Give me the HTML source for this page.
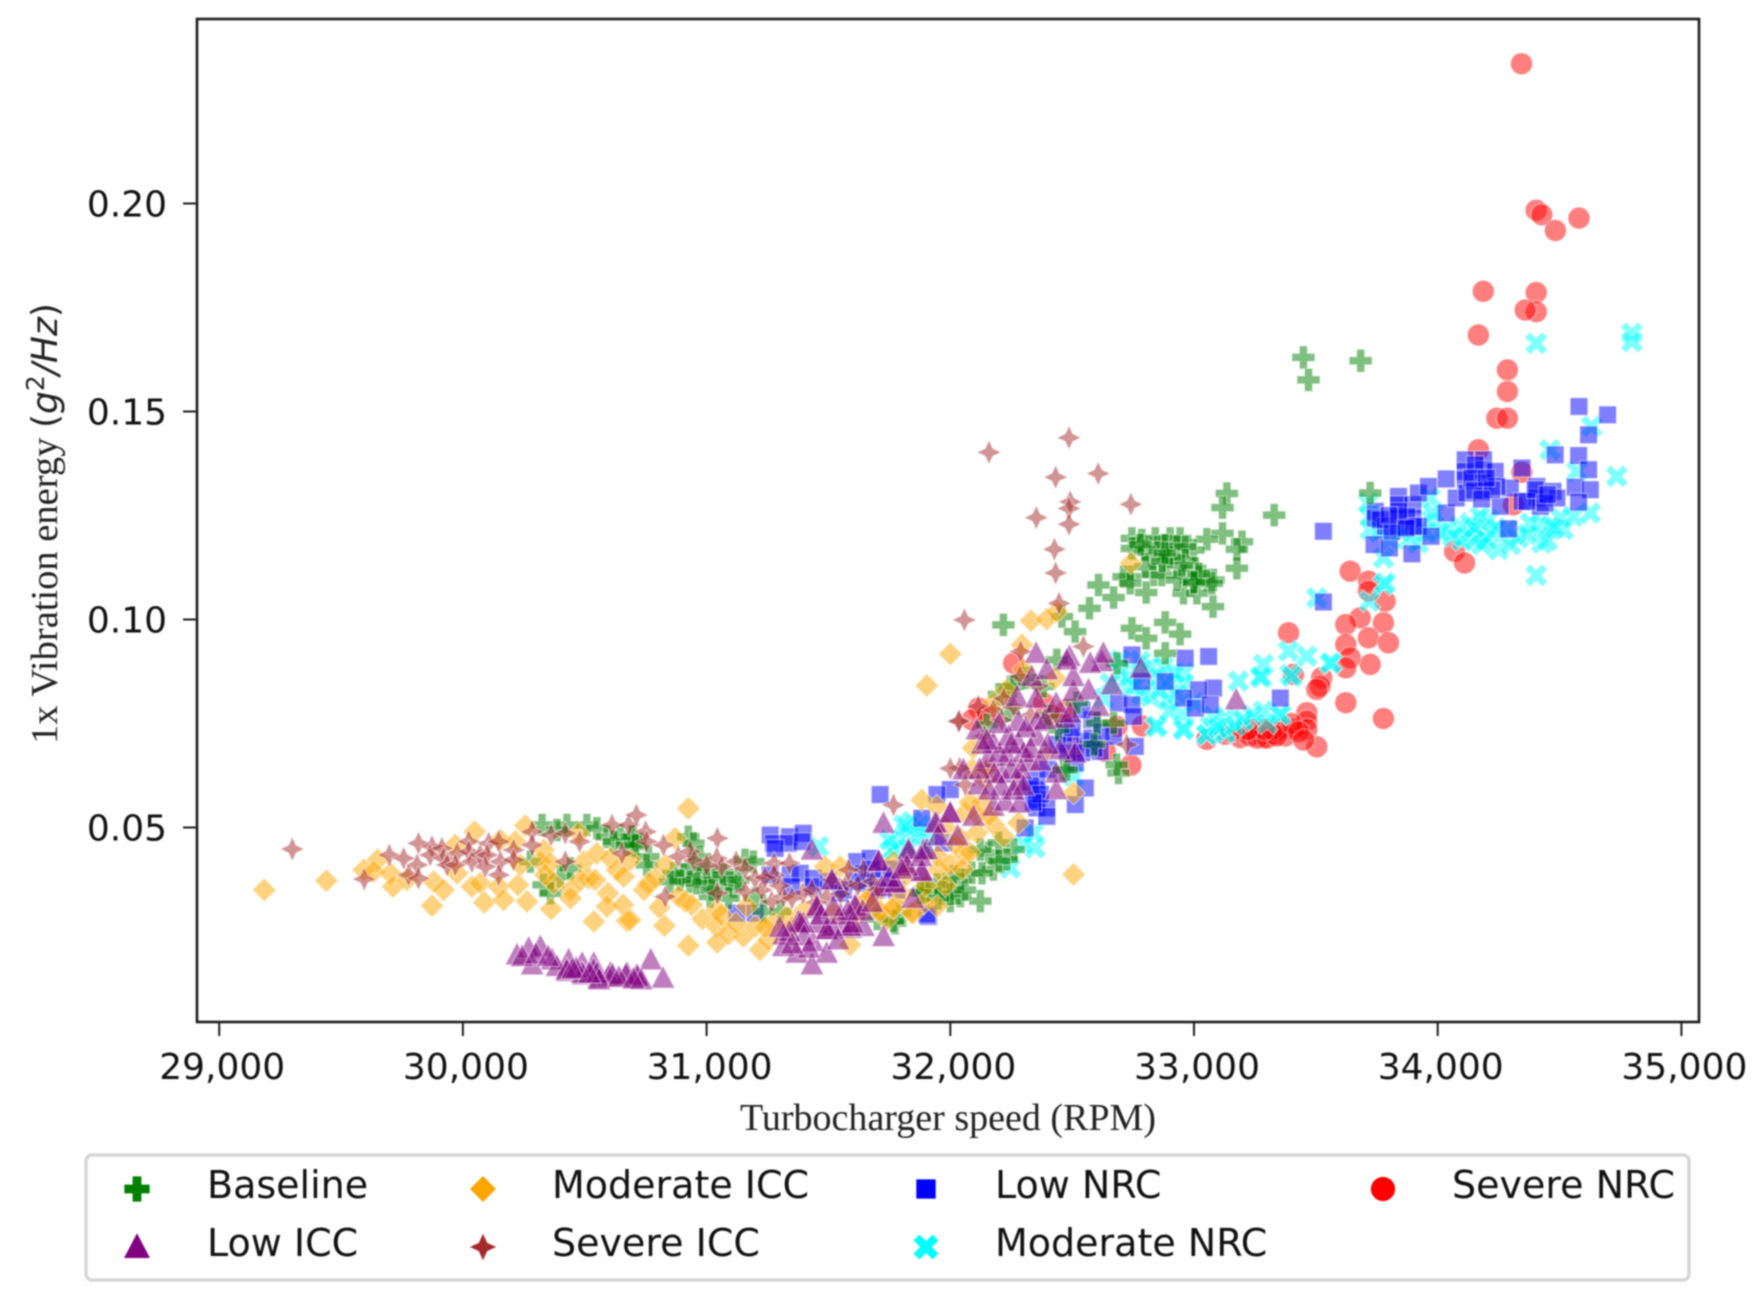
<!DOCTYPE html>
<html lang="en">
<head>
<meta charset="utf-8">
<title>1x Vibration energy vs Turbocharger speed</title>
<style>
html,body{margin:0;padding:0;background:#fff;width:1764px;height:1310px;overflow:hidden}
svg{display:block;filter:blur(.7px)}
.tick{font-family:"DejaVu Sans",sans-serif;font-size:36px;fill:#111}
.leg{font-family:"DejaVu Sans",sans-serif;font-size:38px;fill:#111}
.ser{font-family:"Liberation Serif",serif;fill:#222}
</style>
</head>
<body>
<svg id="chart" width="1764" height="1310" viewBox="0 0 1764 1310" xmlns="http://www.w3.org/2000/svg">
<rect x="197" y="19" width="1502" height="1003" fill="#fff"/>
<g id="marks"></g>
<rect x="197" y="19" width="1502" height="1003" fill="none" stroke="#1c1c1c" stroke-width="2.6"/>
<g id="ticks"></g>
<text class="ser" x="948" y="1130" font-size="38" text-anchor="middle" textLength="416" lengthAdjust="spacingAndGlyphs">Turbocharger speed (RPM)</text>
<text transform="translate(57,744) rotate(-90)" font-size="36"><tspan class="ser" font-size="38.5">1x Vibration energy </tspan><tspan font-family="'DejaVu Sans',sans-serif" fill="#222">(<tspan font-style="italic">g</tspan><tspan font-size="25" dy="-13">2</tspan><tspan dy="13" font-style="italic">/Hz</tspan>)</tspan></text>
<rect x="86" y="1155" width="1603" height="125" rx="6" fill="#fff" stroke="#d6d6d6" stroke-width="3.4"/>
<g id="legend"></g>
</svg>
<script>
const NS = 'http://www.w3.org/2000/svg';
const categories = ['Baseline','Low ICC','Moderate ICC','Severe ICC','Low NRC','Moderate NRC','Severe NRC'];
const xTicks = [29000,30000,31000,32000,33000,34000,35000];
const yTicks = [0.05,0.10,0.15,0.20];

const baseline = [[30325,.0506],[30427,.0506],[30509,.0506],[30550,.0498],[30386,.0494],[30591,.0478],[30646,.0482],[30700,.0478],[30619,.0466],[30673,.0458],[30708,.0454],[30277,.0418],[30331,.0362],[30359,.0342],[30400,.0382],[30441,.0402],
[30693,.0478],[30707,.0458],[30761,.0430],[30754,.0410],[30925,.0478],[30946,.0462],[30973,.0430],[30905,.0386],[30939,.0406],[30966,.0382],[31001,.0398],[31001,.0374],[31035,.0374],[30932,.0370],[31096,.0374],[31110,.0358],[31069,.0386],[31090,.0330],[31158,.0422],[31192,.0418],[31199,.0330],[31233,.0298],[31302,.0298],[31014,.0334],[31130,.0374],[30960,.0366],[30891,.0374],[30864,.0390],[31890,.0342],[31774,.0270],[31897,.0350],[31794,.0294],
[32123,.0323],[32041,.0375],[32041,.0335],[31972,.0355],[31904,.0347],[32089,.0391],[32157,.0439],[32177,.0399],[32260,.0447],[32123,.0447],[32000,.0323],[31945,.0363],[32013,.0383],[31877,.0343],[32232,.0423],[31767,.0275],[32198,.0463],
[32218,.0987],[32458,.1007],[32690,.0631],[32246,.0839],[32465,.0639],[32684,.0895],[32602,.0751],[32670,.0751],
[33135,.1303],[33117,.1269],[33329,.1251],[33117,.1207],[33053,.1193],[33197,.1187],[33176,.1169],[33176,.1123],[32998,.1167],[32745,.1195],[32786,.1191],[32841,.1195],[32902,.1195],[32943,.1195],[32745,.1171],[32800,.1167],[32848,.1175],[32882,.1179],[32930,.1175],[32964,.1175],[32827,.1151],[32889,.1143],[32964,.1143],[33005,.1123],[32738,.1103],[32711,.1103],[32834,.1107],[32800,.1127],[32868,.1107],[32957,.1107],[33019,.1103],[33080,.1095],[33053,.1095],[32608,.1083],[32670,.1053],[32804,.1065],[32957,.1063],[33012,.1063],[33078,.1031],[32571,.1027],[32512,.0971],[32745,.0979],[32804,.0955],[32882,.0993],[32943,.0965],[32882,.0919],[32930,.1095],[32998,.1087],[32738,.1087],[33073,.1087],
[33449,.1630],[33470,.1576],[33684,.1622],[33723,.1304],[32683,.0651],[32259,.0839],[32382,.0839],[32437,.0903],[32150,.0747],[32444,.0735],[32478,.0639],
[32000,.0340],[32060,.0350],[31950,.0330],[32130,.0390],[32200,.0420],[31700,.0280],[32310,.0860],[32400,.0770],[32520,.0800],[32590,.0700],[32200,.0820],[32240,.0780],[30850,.0370],[31020,.0350],[32950,.1130],[32900,.1150],[32870,.1140],[33020,.1110],[33000,.1090],[32780,.1180],[32880,.1160]];

const lowIcc = [[30222,.0194],[30270,.0210],[30318,.0214],[30284,.0170],[30366,.0182],[30434,.0182],[30489,.0174],[30537,.0174],[30427,.0154],[30495,.0146],[30557,.0138],[30605,.0150],[30673,.0150],[30714,.0146],[30243,.0190],[30386,.0166],[30771,.0182],[30821,.0138],[30716,.0142],[30669,.0146],[30598,.0142],[30536,.0158],[30489,.0150],[30614,.0146],[30426,.0158],[30465,.0162],[30551,.0150],[30732,.0134],[30559,.0134],
[31432,.0446],[31315,.0242],[31377,.0274],[31452,.0306],[31436,.0226],[31493,.0254],[31370,.0198],[31493,.0198],[31432,.0170],[31315,.0214],[31592,.0258],[31609,.0314],[31644,.0262],[31726,.0238],[31726,.0510],[31705,.0418],[31828,.0442],[31821,.0414],[31883,.0394],[31846,.0330],[31774,.0366],[31719,.0358],[31514,.0374],[31452,.0270],[31562,.0262],[31890,.0446],[31514,.0262],[31397,.0270],
[31944,.0511],[31999,.0535],[32095,.0527],[32177,.0551],[32225,.0563],[32284,.0559],[32115,.0603],[32054,.0639],[32211,.0631],[32280,.0611],[32327,.0659],[32434,.0591],[32434,.0631],[32156,.0667],[32177,.0703],[32234,.0671],[32280,.0703],[32355,.0719],[32109,.0735],[32280,.0755],[32355,.0755],[32471,.0763],[32389,.0759],[32273,.0815],[32352,.0811],[32434,.0799],[32505,.0827],[32567,.0831],[32608,.0791],[32663,.0843],[32782,.0883],[32622,.0899],[32489,.0911],[32505,.0863],[32352,.0919],[32334,.0863],[32396,.0879],[32628,.0919],[32512,.0679],[32450,.0687],[32478,.0903],[32574,.0895],[32492,.0775],[33173,.0807],
[31610,.0311],[31589,.0263],[31938,.0511],[32000,.0535],[31829,.0447],[31904,.0447],[31883,.0395],[31822,.0407],[31706,.0419],[31774,.0367],[31452,.0311],[31494,.0255],[31384,.0271],
[32130,.0700],[32200,.0680],[32250,.0640],[32300,.0680],[32180,.0630],[32240,.0720],[32310,.0740],[32200,.0750],[32150,.0710],[32250,.0700],[32330,.0690],[32370,.0660],[32290,.0640],[32120,.0640],[32210,.0600],[32160,.0590],[32260,.0590],[32400,.0700],[32300,.0600],[31540,.0230],[31400,.0240],[31470,.0290],[31550,.0290],[31340,.0250],[31600,.0270],[31420,.0210],[31350,.0220],[31300,.0260],[31750,.0380],[31800,.0400],[31880,.0430],[31950,.0480],[32030,.0480],[31640,.0300],[31680,.0320],[31580,.0300],[31520,.0310],[30300,.0196],[30450,.0160],[30520,.0150],[30640,.0140],[30700,.0136],[30350,.0190]];

const moderateIcc = [[29185,.0350],[29440,.0372],[29593,.0398],[29650,.0422],[29634,.0394],[29702,.0390],[29713,.0358],[29771,.0374],[29873,.0312],[29880,.0370],[29921,.0350],[29976,.0390],[29969,.0458],[30048,.0490],[30037,.0358],[30071,.0366],[30088,.0320],[30147,.0358],[30167,.0326],[30226,.0362],[30263,.0322],[30362,.0304],[30256,.0504],[30236,.0410],[30331,.0446],[30318,.0418],[30359,.0414],[30372,.0366],[30338,.0386],[30441,.0350],[30441,.0330],[30496,.0418],[30550,.0438],[30516,.0378],[30482,.0374],[30543,.0374],[30595,.0342],[30591,.0310],[30657,.0314],[30537,.0274],[30673,.0276],[30605,.0426],[30632,.0398],[30660,.0382],[30687,.0422],[30475,.0486],[30154,.0470],[30215,.0466],
[30925,.0546],[30871,.0474],[30761,.0366],[30743,.0350],[30789,.0378],[30830,.0410],[30806,.0308],[30686,.0278],[30827,.0264],[30925,.0216],[30884,.0334],[30912,.0322],[30939,.0314],[30983,.0280],[31042,.0302],[31042,.0262],[31044,.0224],[31090,.0244],[31151,.0238],[31199,.0262],[31219,.0206],[31254,.0230],[31274,.0270],[31329,.0286],[31589,.0218],[31486,.0406],[31548,.0406],[31657,.0322],[31698,.0302],[31685,.0334],[31739,.0278],[31767,.0310],[31849,.0294],[31821,.0386],[31520,.0294],[31883,.0566],[31165,.0310],[31767,.0418],[31890,.0318],
[32000,.0917],[31904,.0841],[32331,.0997],[32396,.1001],[32437,.1019],[32294,.0939],[31945,.0551],[32506,.0387],[32506,.0583],[32280,.0511],[32218,.0479],[32054,.0435],[32109,.0487],[32041,.0475],[32130,.0559],[32061,.0535],[32177,.0507],[31952,.0399],[31658,.0327],[31712,.0299],[31767,.0307],[31842,.0295],[31945,.0311],[32093,.0691],[32143,.0615],[32177,.0799],[32430,.0859],[32741,.1135],
[31950,.0430],[32000,.0410],[32050,.0400],[32080,.0440],[32020,.0460],[31980,.0500],[32110,.0530],[32160,.0530],[32080,.0560],[31980,.0360],[31900,.0360],[31800,.0340],[31620,.0290],[31240,.0260],[31350,.0260],[31120,.0270],[31060,.0290],[31400,.0300],[32150,.0640],[32090,.0640],[32230,.0830],[32300,.0880]];

const severeIcc = [[29300,.0448],[29595,.0376],[29698,.0434],[29757,.0426],[29818,.0462],[29812,.0410],[29777,.0386],[29818,.0378],[29873,.0454],[29866,.0434],[29914,.0450],[29921,.0426],[29935,.0410],[29976,.0438],[29969,.0410],[30024,.0466],[30024,.0442],[30037,.0418],[30071,.0434],[30106,.0462],[30099,.0434],[30092,.0406],[30147,.0466],[30154,.0418],[30147,.0386],[30208,.0446],[30208,.0422],[30284,.0490],[30284,.0458],[30362,.0482],[30420,.0486],[30420,.0418],[30479,.0466],[30612,.0506],[30653,.0438],[30680,.0506],[30712,.0530],
[30750,.0490],[30754,.0466],[30823,.0458],[30884,.0430],[30932,.0442],[31044,.0474],[30830,.0334],[31042,.0426],[31062,.0406],[31121,.0418],[31158,.0402],[31199,.0378],[31158,.0346],[31044,.0342],[31226,.0350],[31277,.0414],[31277,.0386],[31340,.0414],[31267,.0322],[31315,.0334],[31395,.0342],[31432,.0350],[31493,.0334],[31514,.0374],[31575,.0366],[31644,.0398],[31767,.0554],[31582,.0398],
[32039,.0643],[32037,.0757],[32115,.0791],[32177,.0783],[32211,.0759],[32546,.0935],[32289,.0923],[32724,.0699],[32396,.0679],[32061,.0603],[32150,.0639],[32437,.0767],[32286,.0863],
[32159,.1402],[32487,.1437],[32432,.1342],[32607,.1351],[32492,.1283],[32487,.1267],[32487,.1229],[32353,.1245],[32427,.1169],[32432,.1112],[32446,.1039],[32741,.1277],[32058,.0999],[32000,.0642],[32035,.0755],
[31300,.0360],[31350,.0330],[31450,.0320],[31550,.0340],[31620,.0360],[31680,.0370],[31240,.0380],[31700,.0350],[32140,.0720],[32220,.0810],[32260,.0790],[32330,.0770],[32360,.0840],[30950,.0420],[31000,.0410]];

const lowNrc = [[31261,.0482],[31274,.0462],[31340,.0478],[31336,.0462],[31397,.0486],[31391,.0466],[31281,.0450],[31343,.0386],[31384,.0390],[31438,.0378],[31349,.0358],[31438,.0358],[31124,.0294],[31548,.0342],[31616,.0418],[31671,.0426],[31657,.0366],[31726,.0382],[31883,.0522],[31910,.0286],[31261,.0386],[31644,.0390],[31562,.0350],[31199,.0294],
[31712,.0579],[32000,.0591],[31945,.0579],[31972,.0463],[31904,.0291],[32355,.0615],[32355,.0591],[32355,.0567],[32355,.0547],[32396,.0547],[32396,.0527],[32307,.0499],[32513,.0555],[32554,.0595],[32513,.0655],[32745,.0915],[32786,.0851],[32882,.0851],[32964,.0907],[33060,.0911],[33080,.0835],[33019,.0831],[32957,.0811],[33005,.0787],[33067,.0795],[32690,.0799],[32745,.0795],[32752,.0767],[32670,.0719],[32554,.0707],[32615,.0683],[32759,.0695],[32581,.0759],[32540,.0783],[32492,.0719],[32581,.0715],[32465,.0727],[33354,.0811],
[33739,.1180],[33802,.1172],[33894,.1158],[33744,.1260],[33744,.1244],[33785,.1224],[33839,.1296],[33839,.1276],[33839,.1244],[33839,.1224],[33898,.1276],[33898,.1244],[33921,.1304],[33921,.1224],[33962,.1320],[33973,.1200],[34035,.1338],[34035,.1256],[34076,.1292],[34113,.1384],[34113,.1356],[34113,.1336],[34188,.1384],[34188,.1360],[34188,.1328],[34188,.1308],[34236,.1356],[34257,.1272],[34298,.1316],[34346,.1364],[34346,.1284],[34291,.1218],[34407,.1320],[34407,.1292],[34421,.1272],[34473,.1308],[34489,.1292],[34564,.1318],[34578,.1394],[34626,.1312],[34619,.1360],[34578,.1282],[34482,.1396],[34619,.1444],[34120,.1304],[34154,.1372],[34243,.1320],[34222,.1312],[34366,.1284],[34400,.1312],[33764,.1240],[33812,.1212],[33874,.1248],[33901,.1224],
[34580,.1512],[34697,.1492],[33531,.1212],[33531,.1042],
[32330,.0600],[32370,.0580],[32340,.0560],[32400,.0640],[32440,.0700],[32500,.0740],[32540,.0680],[32590,.0690],[32480,.0680],[32620,.0730],[31500,.0370],[31620,.0370],[31700,.0350],[31780,.0350],[31680,.0400],[31760,.0400],[33840,.1260],[33800,.1250],[33870,.1220],[34140,.1340],[34150,.1310],[34200,.1340],[34180,.1290],[34440,.1280],[34450,.1300]];

const moderateNrc = [[34404,.1664],[34797,.1688],[34797,.1668],[34735,.1344],[34632,.1464],[34461,.1408],[34404,.1106],[33777,.1084],[33720,.1044],[33504,.1052],[33394,.0868],[33388,.0924],[33463,.0912],[33565,.0896],[33285,.0892],[33278,.0860],[33182,.0852],[33285,.0780],[33353,.0772],[33196,.0756],[33128,.0732],[33066,.0744],[33052,.0724],
[32841,.0743],[32957,.0739],[33272,.0863],[33402,.0863],[33080,.0767],[33128,.0763],[33203,.0759],[33354,.0771],[33053,.0723],[33128,.0727],[32957,.0771],[33559,.0895],
[32697,.0871],[32820,.0887],[32875,.0887],[32957,.0871],[32820,.0815],[32889,.0807],[32957,.0847],[32697,.0903],[32786,.0879],[32902,.0847],[32656,.0847],[32738,.0839],[32786,.0819],[32923,.0871],[32848,.0863],
[34133,.1232],[34174,.1208],[34092,.1224],[34154,.1192],[34209,.1240],[34222,.1208],[34250,.1168],[34174,.1248],[34120,.1200],[34332,.1196],[34421,.1228],[34380,.1232],[34428,.1184],[34516,.1216],[34557,.1248],[34626,.1256],[34503,.1244],[34284,.1216],[34038,.1216],[33880,.1192],[33778,.1148],[33976,.1240],[33969,.1292],[33723,.1216],[33921,.1184],[33805,.1192],[33785,.1088],[34571,.1356],[34366,.1204],[34462,.1224],[33723,.1248],[33716,.1280],[33983,.1256],
[31808,.0506],[31760,.0446],[31459,.0454],[31842,.0514],[31787,.0458],[31821,.0490],[31876,.0506],[31903,.0494],[32348,.0451],[32246,.0403],[32342,.0487],[31767,.0447],[31822,.0503],[31877,.0487],[32506,.0623],[32848,.0743],[32957,.0735],
[34100,.1190],[34150,.1220],[34200,.1190],[34180,.1180],[34240,.1220],[34060,.1200],[34300,.1180],[34450,.1190],[34480,.1220],[34010,.1210],[33950,.1210],[33850,.1210],[33760,.1210],[32730,.0860],[32760,.0840],[32860,.0830],[32930,.0820],[32780,.0900],[32630,.0810],[32900,.0780],[33000,.0800],[33100,.0740],[33170,.0745],[33240,.0770],[33300,.0750],[31750,.0470],[31830,.0450],[31900,.0450],[32300,.0460]];

const severeNrc = [[34344,.2336],[34404,.1984],[34427,.1973],[34483,.1935],[34580,.1965],[34187,.1789],[34404,.1786],[34404,.1740],[34359,.1744],[34167,.1684],[34286,.1600],[34286,.1548],[34243,.1484],[34286,.1484],[34167,.1408],[34345,.1354],[34311,.1276],[34069,.1164],[34110,.1136],[33641,.1116],[33716,.1092],[33716,.1068],[33784,.1044],[33682,.1004],[33623,.0988],[33777,.0992],[33716,.0956],[33798,.0944],[33623,.0940],[33723,.0892],[33641,.0908],[33623,.0884],[33388,.0968],[33408,.0868],[33524,.0860],[33517,.0840],[33504,.0832],[33623,.0800],[33777,.0762],[33504,.0694],[33463,.0776],[33463,.0756],[33463,.0736],[33408,.0736],[33326,.0724],[33285,.0716],[33196,.0732],[33244,.0736],[33189,.0716],[33052,.0712],[33353,.0736],[33128,.0724],[33374,.0720],
[32741,.0650],[32788,.0744],[32636,.0683],[32684,.0743],[32116,.0787],[32089,.0759],[32260,.0895],[32383,.0799],[32478,.0783],[32506,.0691],[32420,.0770],[32150,.0770],
[33230,.0720],[33260,.0715],[33300,.0715],[33320,.0735],[33340,.0720],[33400,.0750],[33430,.0730],[33450,.0710],[33290,.0735],[33220,.0735],[33150,.0730]];

function xScale(v){ return 219.2 + (v - 29000) * 0.2437; }
function yScale(v){ return 203.5 + (0.2 - v) * 4160; }

const shapes = {
  plus: 'M-4-11.5H4V-4H11.5V4H4V11.5H-4V4H-11.5V-4H-4Z',
  triangle: 'M0-12.5L11.8 10H-11.8Z',
  diamond: 'M0-11.8L11.8 0L0 11.8L-11.8 0Z',
  star: 'M0-12L3.8-3.8L12 0L3.8 3.8L0 12L-3.8 3.8L-12 0L-3.8-3.8Z',
  square: 'M-8.8-8.8H8.8V8.8H-8.8Z',
  cross: 'M-6-11.3L0-5.4L6-11.3L11.3-6L5.4 0L11.3 6L6 11.3L0 5.4L-6 11.3L-11.3 6L-5.4 0L-11.3-6Z',
  circle: 'M-11 0A11 11 0 1 1 11 0A11 11 0 1 1-11 0Z'
};

// drawing order, back to front
const drawOrder = [
  {points: severeNrc,   shape: 'circle',   color: '#ff0000', group: 'series-severe-nrc'},
  {points: moderateNrc, shape: 'cross',    color: '#00ffff', group: 'series-moderate-nrc'},
  {points: lowNrc,      shape: 'square',   color: '#0000ff', group: 'series-low-nrc'},
  {points: baseline,    shape: 'plus',     color: '#008000', group: 'series-baseline'},
  {points: moderateIcc, shape: 'diamond',  color: '#ffa500', group: 'series-moderate-icc'},
  {points: severeIcc,   shape: 'star',     color: '#a52a2a', group: 'series-severe-icc'},
  {points: lowIcc,      shape: 'triangle', color: '#800080', group: 'series-low-icc'}
];

const marksLayer = document.getElementById('marks');
drawOrder.forEach(function(s){
  const g = document.createElementNS(NS, 'g');
  
  
  s.points.forEach(function(p){
    const m = document.createElementNS(NS, 'path');
    m.setAttribute('d', shapes[s.shape]);
    m.setAttribute('transform', 'translate(' + xScale(p[0]).toFixed(1) + ',' + yScale(p[1]).toFixed(1) + ')');
    m.setAttribute('fill', s.color);
    m.setAttribute('fill-opacity', '0.5');
    m.setAttribute('stroke', '#fff');
    m.setAttribute('stroke-opacity', '0.55');
    m.setAttribute('stroke-width', '1');
    
    
    g.appendChild(m);
  });
  marksLayer.appendChild(g);
});

const ticksLayer = document.getElementById('ticks');
xTicks.forEach(function(v){
  const x = xScale(v);
  const l = document.createElementNS(NS, 'line');
  l.setAttribute('x1', x); l.setAttribute('x2', x);
  l.setAttribute('y1', 1022); l.setAttribute('y2', 1036);
  l.setAttribute('stroke', '#1c1c1c'); l.setAttribute('stroke-width', '2');
  
  
  ticksLayer.appendChild(l);
  const t = document.createElementNS(NS, 'text');
  t.setAttribute('x', x + 3); t.setAttribute('y', 1079);
  t.setAttribute('text-anchor', 'middle');
  t.setAttribute('class', 'tick');
  
  
  t.textContent = v.toLocaleString('en-US');
  ticksLayer.appendChild(t);
});
yTicks.forEach(function(v){
  const y = yScale(v);
  const l = document.createElementNS(NS, 'line');
  l.setAttribute('x1', 183); l.setAttribute('x2', 197);
  l.setAttribute('y1', y); l.setAttribute('y2', y);
  l.setAttribute('stroke', '#1c1c1c'); l.setAttribute('stroke-width', '2');
  
  
  ticksLayer.appendChild(l);
  const t = document.createElementNS(NS, 'text');
  t.setAttribute('x', 167); t.setAttribute('y', y + 13);
  t.setAttribute('text-anchor', 'end');
  t.setAttribute('class', 'tick');
  
  
  t.textContent = v.toFixed(2);
  ticksLayer.appendChild(t);
});

const legendShapes = ['plus','triangle','diamond','star','square','cross','circle'];
const legendColors = ['#008000','#800080','#ffa500','#a52a2a','#0000ff','#00ffff','#ff0000'];
const legendCol = [0,0,1,1,2,2,3];
const legendRow = [0,1,0,1,0,1,0];
const legendMarkerX = [137,483,926,1383];
const legendTextX = [207,552,995,1452];
const legendMarkerY = [1189,1247];
const legendTextY = [1198,1256];
const legendLayer = document.getElementById('legend');
categories.forEach(function(name, i){
  const m = document.createElementNS(NS, 'path');
  m.setAttribute('d', shapes[legendShapes[i]]);
  m.setAttribute('transform', 'translate(' + legendMarkerX[legendCol[i]] + ',' + legendMarkerY[legendRow[i]] + ') scale(1.1)');
  m.setAttribute('fill', legendColors[i]);
  
  
  legendLayer.appendChild(m);
  const t = document.createElementNS(NS, 'text');
  t.setAttribute('x', legendTextX[legendCol[i]]);
  t.setAttribute('y', legendTextY[legendRow[i]]);
  t.setAttribute('class', 'leg');
  
  
  t.textContent = name;
  legendLayer.appendChild(t);
});
</script>
</body>
</html>
